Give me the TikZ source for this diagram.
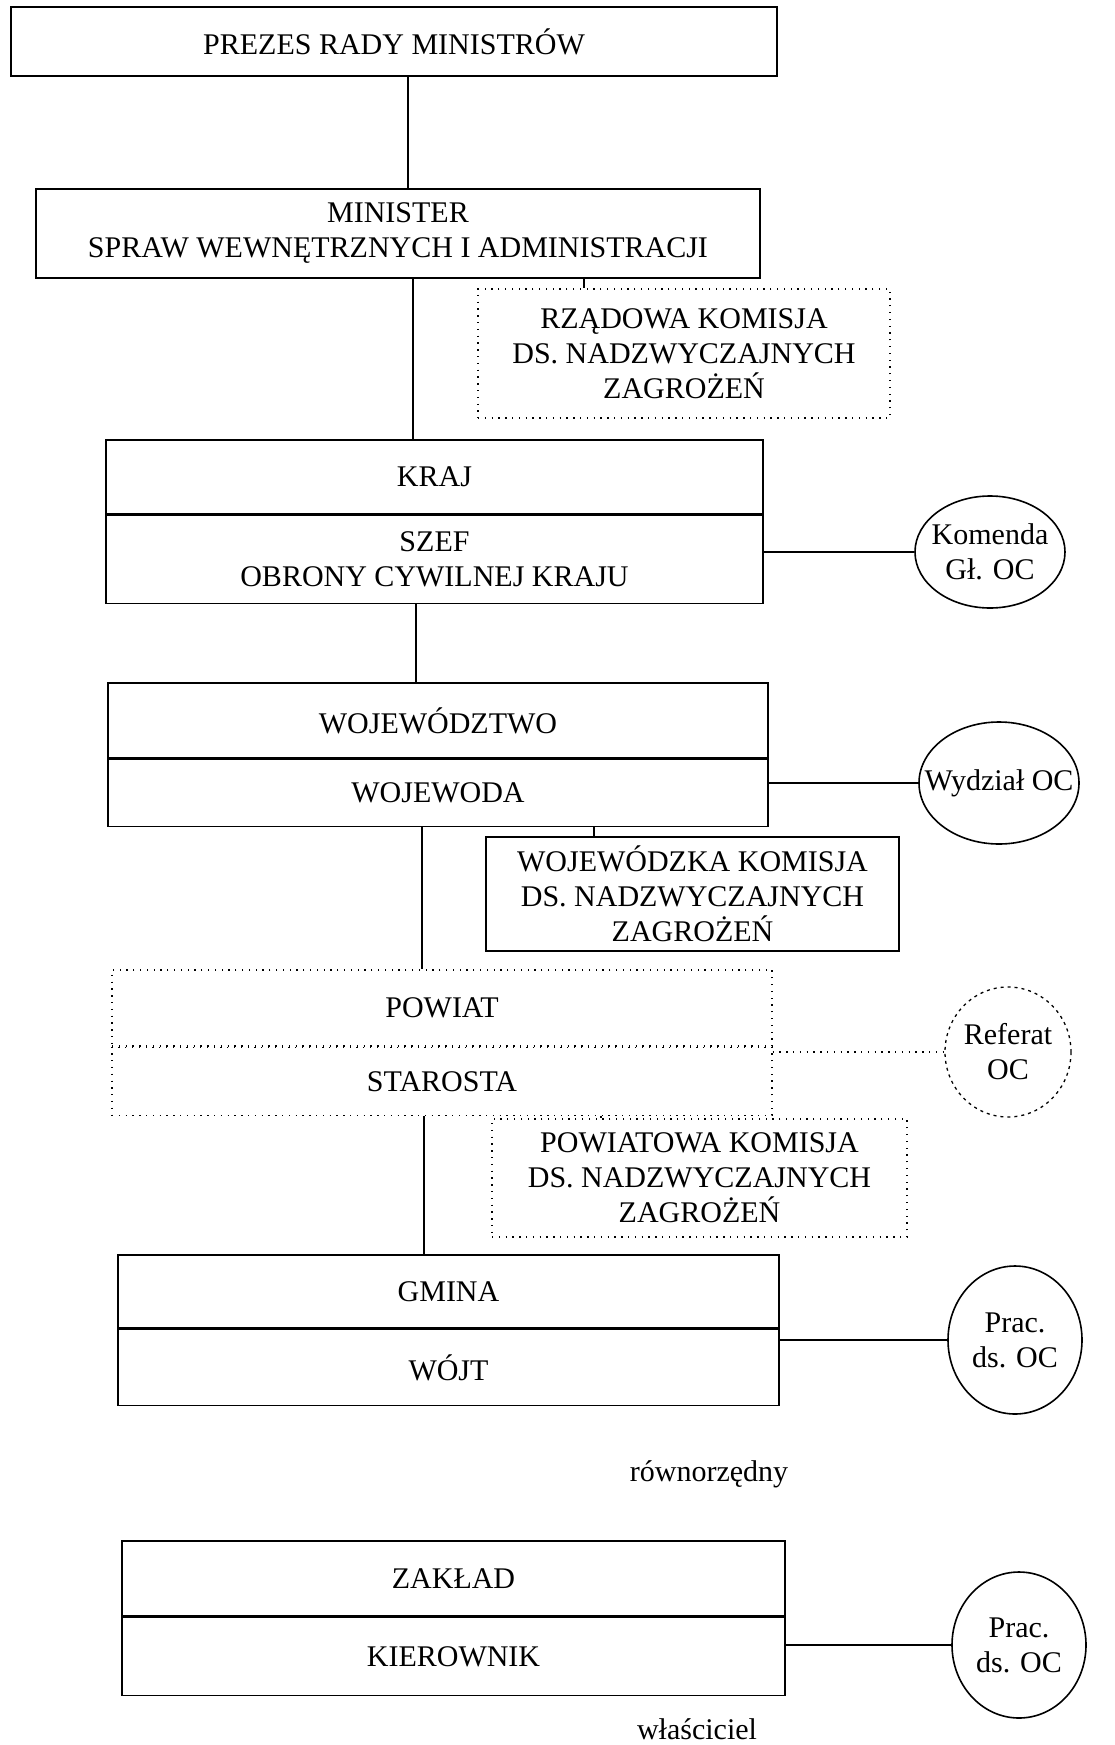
\documentclass[tikz,border=0pt]{standalone}
\usepackage{fontspec}
\setmainfont{Liberation Serif}
\usetikzlibrary{shapes.geometric,positioning}

\begin{document}
\begin{tikzpicture}[x=1pt,y=-1pt,
    every node/.style={font=\fontsize{30}{35}\selectfont,align=center,inner sep=0pt},
    box/.style={draw,line width=1.6pt,rectangle},
    dotbox/.style={draw,line width=1.3pt,rectangle,dash pattern=on 1.3pt off 5.5pt},
    unit/.style={draw,line width=1.6pt,ellipse,inner xsep=-22pt},
    dotunit/.style={draw,line width=1.3pt,ellipse,inner xsep=-22pt,dash pattern=on 3pt off 4pt},
    link/.style={line width=1.6pt},
    dotlink/.style={line width=1.3pt,dash pattern=on 1.3pt off 5.5pt}]
   \useasboundingbox (0,0) rectangle (1115,1745);
   \node[box,minimum width=766,minimum height=69] (prezes) at (394,41.5) {PREZES RADY MINISTRÓW};
   \node[box,minimum width=724,minimum height=89] (minister) at (398,233.5) {MINISTER\\
      SPRAW WEWNĘTRZNYCH I ADMINISTRACJI};
   \node[dotbox,minimum width=412,minimum height=129] (rzad) at (684,353.5) {RZĄDOWA KOMISJA\\
      DS. NADZWYCZAJNYCH\\ ZAGROŻEŃ};
   % kraj
   \node[box,minimum width=657,minimum height=74] (kraj) at (434.5,477) {KRAJ};
   \node[box,minimum width=657,minimum height=88] (szef) [below=0pt of kraj] {SZEF\\
      OBRONY CYWILNEJ KRAJU};
   \node[unit,minimum width=150,minimum height=112] (komenda) at (990,552) {Komenda\\ Gł. OC};
   % wojewodztwo
   \node[box,minimum width=660,minimum height=75] (woj) at (438,720.5) {WOJEWÓDZTWO};
   \node[box,minimum width=660,minimum height=67] (wojewoda) [below=0pt of woj] {WOJEWODA};
   \node[unit,minimum width=160,minimum height=122] (wydzial) at (999,783) {Wydział OC};
   \node[box,minimum width=413,minimum height=114] (wojkom) at (692.5,894) {WOJEWÓDZKA KOMISJA\\
      DS. NADZWYCZAJNYCH\\ ZAGROŻEŃ};
   % powiat
   \node[dotbox,minimum width=660,minimum height=76] (powiat) at (442,1008) {POWIAT};
   \node[dotbox,minimum width=660,minimum height=68] (starosta) [below=0pt of powiat] {STAROSTA};
   \node[dotunit,minimum width=126,minimum height=130] (referat) at (1008,1052) {Referat\\ OC};
   \node[dotbox,minimum width=415,minimum height=118] (powkom) at (699.5,1178) {POWIATOWA KOMISJA\\
      DS. NADZWYCZAJNYCH\\ ZAGROŻEŃ};
   % gmina
   \node[box,minimum width=661,minimum height=73] (gmina) at (448.5,1291.5) {GMINA};
   \node[box,minimum width=661,minimum height=76] (wojt) [below=0pt of gmina] {WÓJT};
   \node[unit,minimum width=134,minimum height=148] (prac_1) at (1015,1340) {Prac.\\ ds. OC};
   \node (rown) at (709,1474) {równorzędny};
   % zaklad
   \node[box,minimum width=663,minimum height=75] (zaklad) at (453.5,1578.5) {ZAKŁAD};
   \node[box,minimum width=663,minimum height=78] (kier) [below=0pt of zaklad] {KIEROWNIK};
   \node[unit,minimum width=134,minimum height=146] (prac_2) at (1019,1645) {Prac.\\ ds. OC};
   \node (wlasc) at (697,1729) {właściciel};
   \draw[link] ([xshift=14pt]prezes.south) -- ([xshift=10pt]minister.north);
   \draw[link] ([xshift=15pt]minister.south) -- ([xshift=-21.5pt]kraj.north);
   \draw[link] ([xshift=186pt]minister.south) -- ([xshift=-100pt]rzad.north);
   \draw[link] (komenda.west -| szef.east) -- (komenda.west);
   \draw[link] ([xshift=-18.5pt]szef.south) -- ([xshift=-22pt]woj.north);
   \draw[link] (wydzial.west -| wojewoda.east) -- (wydzial.west);
   \draw[link] ([xshift=156pt]wojewoda.south) -- ([xshift=-98.5pt]wojkom.north);
   \draw[link] ([xshift=-16pt]wojewoda.south) -- ([xshift=-20pt]powiat.north);
   \draw[dotlink] (referat.west -| starosta.east) -- (referat.west);
   \draw[link] ([xshift=159pt]starosta.south) -- ([xshift=-98.5pt]powkom.north);
   \draw[link] ([xshift=-18pt]starosta.south) -- ([xshift=-24.5pt]gmina.north);
   \draw[link] (prac_1.west -| wojt.east) -- (prac_1.west);
   \draw[link] (prac_2.west -| kier.east) -- (prac_2.west);
\end{tikzpicture}
\end{document}
